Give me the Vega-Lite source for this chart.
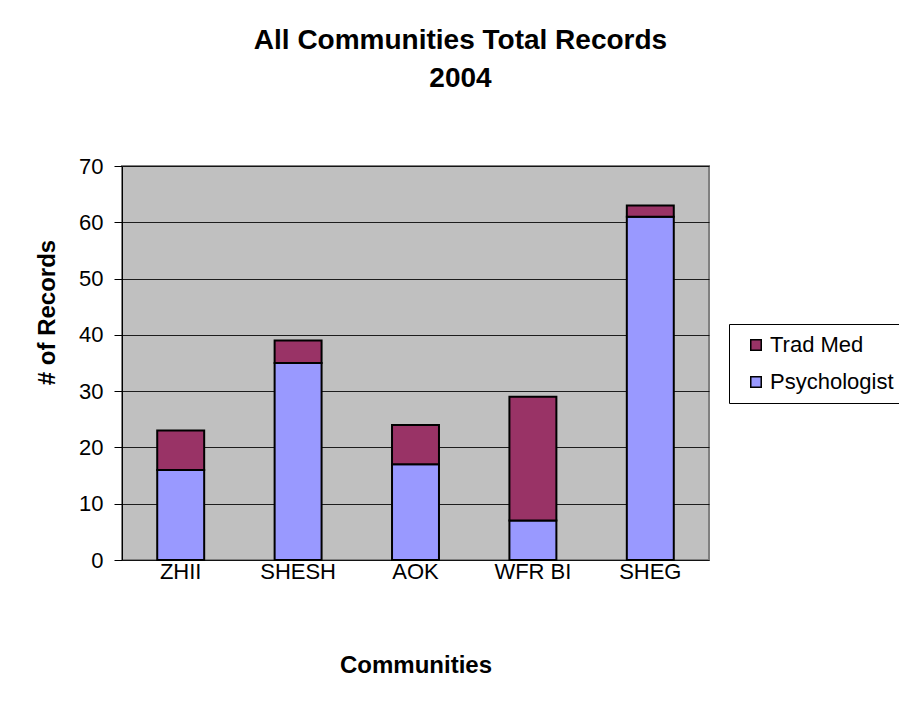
{
  "$schema": "https://vega.github.io/schema/vega-lite/v6.json",
  "autosize": {"type": "none"},
  "padding": {"left": 122, "top": 166, "right": 190, "bottom": 150},
  "width": 587,
  "height": 394,
  "background": "white",
  "title": {
    "text": ["All Communities Total Records", "2004"],
    "font": "Liberation Sans",
    "fontSize": 28,
    "fontWeight": "bold",
    "color": "black",
    "lineHeight": 38,
    "anchor": "middle",
    "dx": 45,
    "offset": 62
  },
  "data": {
    "values": [
      {"community": "ZHII", "series": "Psychologist", "records": 16},
      {"community": "ZHII", "series": "Trad Med", "records": 7},
      {"community": "SHESH", "series": "Psychologist", "records": 35},
      {"community": "SHESH", "series": "Trad Med", "records": 4},
      {"community": "AOK", "series": "Psychologist", "records": 17},
      {"community": "AOK", "series": "Trad Med", "records": 7},
      {"community": "WFR BI", "series": "Psychologist", "records": 7},
      {"community": "WFR BI", "series": "Trad Med", "records": 22},
      {"community": "SHEG", "series": "Psychologist", "records": 61},
      {"community": "SHEG", "series": "Trad Med", "records": 2}
    ]
  },
  "mark": {"type": "bar", "stroke": "black", "strokeWidth": 2},
  "encoding": {
    "x": {
      "field": "community",
      "type": "nominal",
      "sort": ["ZHII", "SHESH", "AOK", "WFR BI", "SHEG"],
      "scale": {"paddingInner": 0.6, "paddingOuter": 0.3},
      "axis": {
        "title": "Communities",
        "titleFont": "Liberation Sans",
        "titleFontSize": 24,
        "titleFontWeight": "bold",
        "titleColor": "black",
        "titleY": 93,
        "labelAngle": 0,
        "labelFont": "Liberation Sans",
        "labelFontSize": 22,
        "labelColor": "black",
        "labelPadding": 1,
        "ticks": false,
        "domain": false
      }
    },
    "y": {
      "field": "records",
      "type": "quantitative",
      "aggregate": "sum",
      "stack": "zero",
      "scale": {"domain": [0, 70], "nice": false},
      "axis": {
        "title": "# of Records",
        "titleFont": "Liberation Sans",
        "titleFontSize": 24,
        "titleFontWeight": "bold",
        "titleColor": "black",
        "titleY": 146,
        "titleX": -63,
        "values": [0, 10, 20, 30, 40, 50, 60, 70],
        "labelFont": "Liberation Sans",
        "labelFontSize": 22,
        "labelColor": "black",
        "labelPadding": 11,
        "tickSize": 8,
        "tickColor": "black",
        "domainColor": "black",
        "gridColor": "black",
        "gridOpacity": 0.85,
        "grid": true
      }
    },
    "color": {
      "field": "series",
      "type": "nominal",
      "scale": {"domain": ["Trad Med", "Psychologist"], "range": ["#993366", "#9999FF"]},
      "legend": {
        "title": null,
        "orient": "none",
        "legendX": 607,
        "legendY": 158,
        "symbolType": "square",
        "symbolSize": 110,
        "symbolStrokeColor": "black",
        "symbolStrokeWidth": 1.5,
        "symbolOffset": 6,
        "labelFont": "Liberation Sans",
        "labelFontSize": 22,
        "labelColor": "black",
        "labelOffset": 3,
        "rowPadding": 15,
        "padding": 10,
        "strokeColor": "black",
        "fillColor": "white"
      }
    },
    "order": {"field": "series", "sort": "ascending"}
  },
  "config": {
    "view": {"fill": "#C0C0C0", "stroke": "#808080", "strokeWidth": 2}
  }
}
